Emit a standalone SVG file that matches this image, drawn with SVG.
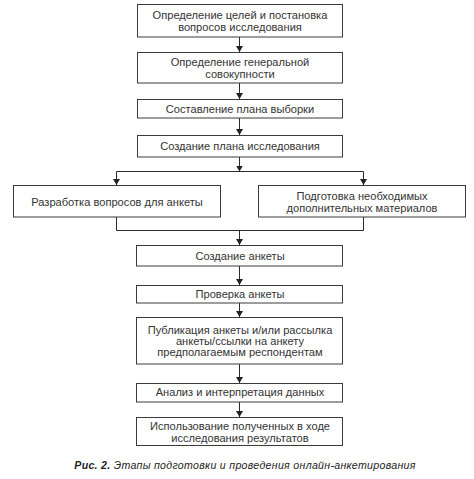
<svg xmlns="http://www.w3.org/2000/svg" width="474" height="479" viewBox="0 0 474 479">
<style>
.box{fill:#fff;stroke:#3a3a3a;stroke-width:1}
.t{font-family:"Liberation Sans",Arial,sans-serif;font-size:11.1px;fill:#333;text-anchor:middle}
.c{stroke:#2a2a2a;stroke-width:1;fill:none}
.cap{font-family:"Liberation Sans",Arial,sans-serif;font-size:10.6px;fill:#222;font-style:italic;text-anchor:middle;letter-spacing:0.3px}
</style>
<defs>
<marker id="ar" viewBox="0 0 6 7" refX="6" refY="3.5" markerWidth="6" markerHeight="7" orient="auto" markerUnits="userSpaceOnUse">
<path d="M0,0 L6,3.5 L0,7 z" fill="#222"/>
</marker>
</defs>
<rect width="474" height="479" fill="#fff"/>
<g id="connectors">
<line class="c" x1="239.5" y1="37" x2="239.5" y2="52" marker-end="url(#ar)"/>
<line class="c" x1="239.5" y1="83" x2="239.5" y2="99" marker-end="url(#ar)"/>
<line class="c" x1="239.5" y1="118" x2="239.5" y2="135" marker-end="url(#ar)"/>
<line class="c" x1="239.5" y1="157" x2="239.5" y2="171.5" marker-end="url(#ar)"/>
<polyline class="c" points="116.5,185 116.5,171.5 363.5,171.5 363.5,185"/>
<line class="c" x1="116.5" y1="172" x2="116.5" y2="185" marker-end="url(#ar)"/>
<line class="c" x1="363.5" y1="172" x2="363.5" y2="185" marker-end="url(#ar)"/>
<polyline class="c" points="116.5,217 116.5,230.5 363.5,230.5 363.5,217"/>
<line class="c" x1="239.5" y1="230.5" x2="239.5" y2="245" marker-end="url(#ar)"/>
<line class="c" x1="239.5" y1="266" x2="239.5" y2="285" marker-end="url(#ar)"/>
<line class="c" x1="239.5" y1="303" x2="239.5" y2="317" marker-end="url(#ar)"/>
<line class="c" x1="239.5" y1="364" x2="239.5" y2="383" marker-end="url(#ar)"/>
<line class="c" x1="239.5" y1="402" x2="239.5" y2="417" marker-end="url(#ar)"/>
</g>
<g id="n1"><rect class="box" x="137.5" y="4.5" width="205" height="32.5"/>
<text class="t" x="240" y="19">Определение целей и постановка</text>
<text class="t" x="240" y="31">вопросов исследования</text></g>
<g id="n2"><rect class="box" x="137.5" y="52.5" width="205" height="30.5"/>
<text class="t" x="240" y="66">Определение генеральной</text>
<text class="t" x="240" y="78">совокупности</text></g>
<g id="n3"><rect class="box" x="137.5" y="99.5" width="205" height="18.5"/>
<text class="t" x="240" y="112.5">Составление плана выборки</text></g>
<g id="n4"><rect class="box" x="137.5" y="135.5" width="205" height="21.5"/>
<text class="t" x="240" y="150">Создание плана исследования</text></g>
<g id="n5"><rect class="box" x="13.5" y="185.5" width="207" height="31.5"/>
<text class="t" x="117" y="205.5">Разработка вопросов для анкеты</text></g>
<g id="n6"><rect class="box" x="258.5" y="185.5" width="207" height="31.5"/>
<text class="t" x="362" y="199.5">Подготовка необходимых</text>
<text class="t" x="362" y="211.5">дополнительных материалов</text></g>
<g id="n7"><rect class="box" x="136.5" y="245.5" width="206" height="20.5"/>
<text class="t" x="240" y="259.5">Создание анкеты</text></g>
<g id="n8"><rect class="box" x="136.5" y="285.5" width="206" height="17.5"/>
<text class="t" x="240" y="297.5">Проверка анкеты</text></g>
<g id="n9"><rect class="box" x="136.5" y="317.5" width="206" height="46.5"/>
<text class="t" x="240" y="333.5">Публикация анкеты и/или рассылка</text>
<text class="t" x="240" y="344.5">анкеты/ссылки на анкету</text>
<text class="t" x="240" y="355.5">предполагаемым респондентам</text></g>
<g id="n10"><rect class="box" x="136.5" y="383.5" width="206" height="18.5"/>
<text class="t" x="240" y="395.5">Анализ и интерпретация данных</text></g>
<g id="n11"><rect class="box" x="136.5" y="417.5" width="206" height="28"/>
<text class="t" x="240" y="430">Использование полученных в ходе</text>
<text class="t" x="240" y="442">исследования результатов</text></g>
<text class="cap" x="245" y="469"><tspan font-weight="bold">Рис. 2.</tspan> Этапы подготовки и проведения онлайн-анкетирования</text>
</svg>
